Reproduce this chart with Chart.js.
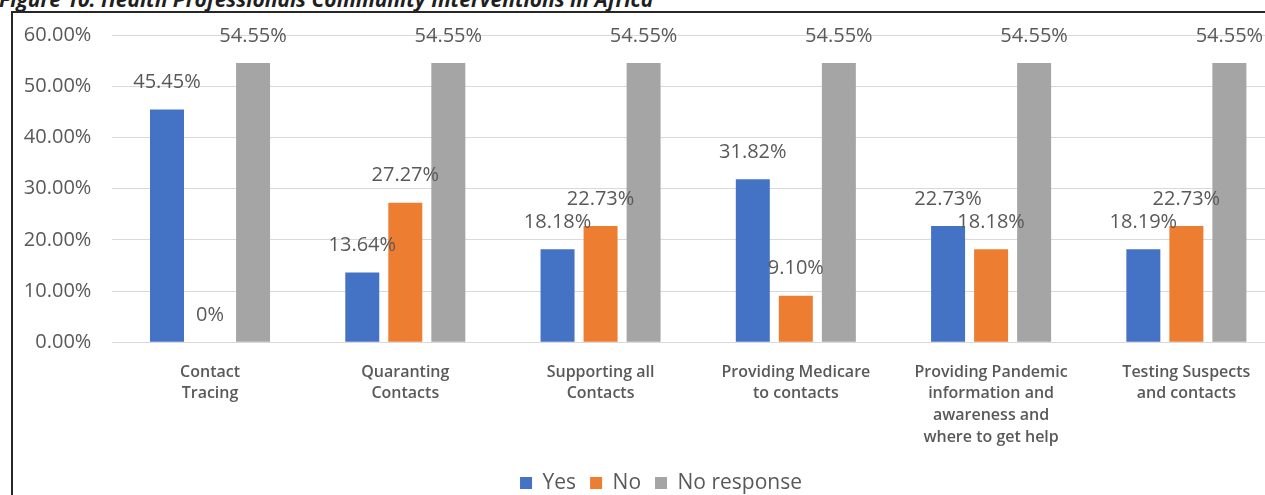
<!DOCTYPE html>
<html><head><meta charset="utf-8">
<script src="https://cdn.jsdelivr.net/npm/chart.js@4/dist/chart.umd.min.js"></script>
<style>
html,body{margin:0;padding:0;background:#fff;overflow:hidden;width:1265px;height:495px;position:relative}
#title{position:absolute;left:-1px;top:-11px;font:italic 700 21px "Open Sans";color:#1f1f1f;white-space:nowrap;line-height:21px}
#frame{position:absolute;left:11px;top:11px;width:1400px;height:600px;border-left:2px solid #262626;border-top:2px solid #262626}
#wrap{position:absolute;left:0;top:0;width:1284px;height:510px}
</style></head><body>
<div id="title">Figure 10: Health Professionals Community Interventions in Africa</div>
<div id="frame"></div>
<div id="wrap"><canvas id="c" width="1284" height="510"></canvas></div>
<script>
const categories = [
  ["Contact", "Tracing"],
  ["Quaranting", "Contacts"],
  ["Supporting all", "Contacts"],
  ["Providing Medicare", "to contacts"],
  ["Providing Pandemic", "information and", "awareness and", "where to get help"],
  ["Testing Suspects", "and contacts"]
];
const seriesNames = ["Yes", "No", "No response"];
const yesValues = [45.45, 13.64, 18.18, 31.82, 22.73, 18.19];
const noValues = [0, 27.27, 22.73, 9.10, 18.18, 22.73];
const noResponseValues = [54.55, 54.55, 54.55, 54.55, 54.55, 54.55];
const yTicks = [0, 10, 20, 30, 40, 50, 60];
const seriesColors = ["#4472C4", "#ED7D31", "#A5A5A5"];

function fmt(v) { return v === 0 ? "0%" : v.toFixed(2) + "%"; }

const valueLabels = {
  id: "valueLabels",
  afterDatasetsDraw(chart) {
    const ctx = chart.ctx;
    ctx.save();
    ctx.font = '20px "Open Sans"';
    ctx.fillStyle = "#595959";
    ctx.textAlign = "center";
    ctx.textBaseline = "middle";
    chart.data.datasets.forEach((ds, i) => {
      chart.getDatasetMeta(i).data.forEach((bar, j) => {
        ctx.fillText(fmt(ds.data[j]), bar.x, bar.y - 27);
      });
    });
    ctx.restore();
  }
};

const legendShift = {
  id: "legendShift",
  afterLayout(chart) {
    if (chart.legend) { chart.legend.left += 19; chart.legend.right += 19; }
  }
};

const allSeries = [yesValues, noValues, noResponseValues];
new Chart(document.getElementById("c"), {
  type: "bar",
  data: {
    labels: categories,
    datasets: allSeries.map((d, i) => ({
      label: seriesNames[i],
      data: d,
      backgroundColor: seriesColors[i],
      borderWidth: 0,
      categoryPercentage: 0.661,
      barPercentage: 0.79
    }))
  },
  options: {
    responsive: false,
    animation: false,
    devicePixelRatio: 1,
    layout: { padding: { left: 0, right: 0, top: 35, bottom: 6.5 } },
    plugins: {
      legend: {
        position: "bottom",
        labels: {
          boxWidth: 12, boxHeight: 12, padding: 14,
          color: "#595959",
          font: { family: "Open Sans", size: 21 }
        }
      },
      tooltip: { enabled: false }
    },
    scales: {
      x: {
        grid: { display: false, drawTicks: false },
        border: { display: false },
        ticks: {
          color: "#595959",
          padding: 19,
          maxRotation: 0,
          autoSkip: false,
          font: { family: "Open Sans", size: 16, weight: "600", lineHeight: "21.7px" }
        },
        afterFit(scale) { scale.height = 116.2; }
      },
      y: {
        min: yTicks[0],
        max: yTicks[yTicks.length - 1],
        grid: { color: "#d9d9d9", lineWidth: 1, drawTicks: false },
        border: { display: false },
        ticks: {
          stepSize: yTicks[1] - yTicks[0],
          color: "#595959",
          padding: 21,
          font: { family: "Open Sans", size: 20 },
          callback: (v) => Number(v).toFixed(2) + "%"
        },
        afterFit(scale) { scale.width = 112.4; }
      }
    }
  },
  plugins: [valueLabels, legendShift]
});
</script>
</body></html>
